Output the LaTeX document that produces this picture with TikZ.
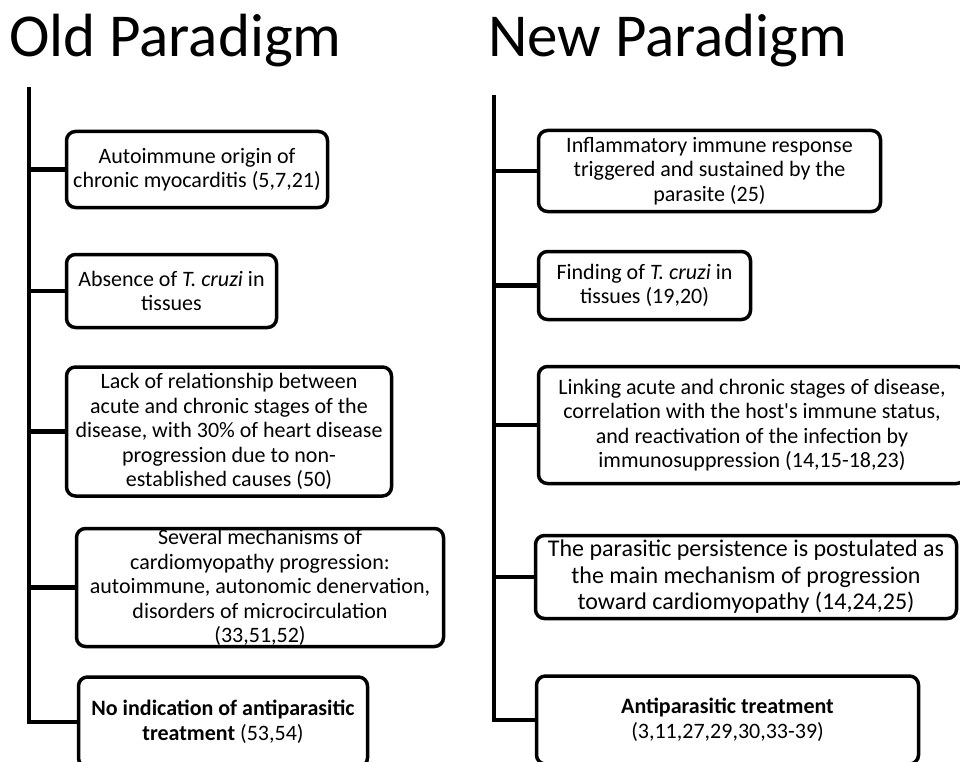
\documentclass[tikz,border=0pt]{standalone}
\usepackage{fontspec}
\setmainfont{Carlito}[Ligatures=TeXOff]

\newcommand{\boxline}{3.5pt}
\newcommand{\trunkline}{4.5pt}
\tikzset{
  parabox/.style={draw, line width=\boxline, rounded corners=9pt, align=center,
    inner sep=0pt, font=\fontsize{22}{24.5}\selectfont},
  bigbox/.style={parabox, font=\fontsize{24}{26.5}\selectfont},
  paratitle/.style={inner sep=0pt, anchor=base west, font=\fontsize{61}{72}\selectfont},
  branch/.style={line width=\trunkline}
}

\begin{document}
\begin{tikzpicture}[x=1pt,y=-1pt]
\useasboundingbox (0,0) rectangle (960,762);
\clip (0,0) rectangle (960,762);

%titles
\node[paratitle] (oldtitle) at (9,57) {Old Paradigm};
\node[paratitle] (newtitle) at (488,57) {New Paradigm};

%old paradigm
\coordinate (oldtop) at (29,87);
\node[parabox, minimum width=261pt, minimum height=76pt] (old1) at (197,169.5)
  {Autoimmune origin of\\chronic myocarditis (5,7,21)};
\node[parabox, minimum width=210pt, minimum height=73pt] (old2) at (171.5,291)
  {Absence of \textit{T. cruzi} in\\tissues};
\node[parabox, minimum width=325pt, minimum height=129pt] (old3) at (229,431.5)
  {Lack of relationship between\\acute and chronic stages of the\\disease, with 30\% of heart disease\\progression due to non-\\established causes (50)};
\node[parabox, minimum width=367pt, minimum height=118pt] (old4) at (260,587.5)
  {Several mechanisms of\\cardiomyopathy progression:\\autoimmune, autonomic denervation,\\disorders of microcirculation\\(33,51,52)};
\node[parabox, minimum width=289pt, minimum height=90pt] (old5) at (223,722)
  {\textbf{No indication of antiparasitic}\\\textbf{treatment} (53,54)};
\draw[branch] (oldtop) |- (old5.west);
\draw[branch] (old1.west) -- (old1.west -| oldtop);
\draw[branch] (old2.west) -- (old2.west -| oldtop);
\draw[branch] (old3.west) -- (old3.west -| oldtop);
\draw[branch] (old4.west) -- (old4.west -| oldtop);

%new paradigm
\coordinate (newtop) at (494,95);
\node[parabox, minimum width=342pt, minimum height=81pt] (new1) at (709.5,171)
  {Inflammatory immune response\\triggered and sustained by the\\parasite (25)};
\node[parabox, minimum width=212pt, minimum height=68pt] (new2) at (644.5,285.5)
  {Finding of \textit{T. cruzi} in\\tissues (19,20)};
\node[parabox, minimum width=427pt, minimum height=117pt] (new3) at (752,425)
  {Linking acute and chronic stages of disease,\\correlation with the host's immune status,\\and reactivation of the infection by\\immunosuppression (14,15-18,23)};
\node[bigbox, minimum width=421pt, minimum height=83pt] (new4) at (746,577)
  {The parasitic persistence is postulated as\\the main mechanism of progression\\toward cardiomyopathy (14,24,25)};
\node[parabox, minimum width=382pt, minimum height=88pt] (new5) at (727.5,720)
  {\textbf{Antiparasitic treatment}\\(3,11,27,29,30,33-39)};
\draw[branch] (newtop) |- (new5.west);
\draw[branch] (new1.west) -- (new1.west -| newtop);
\draw[branch] (new2.west) -- (new2.west -| newtop);
\draw[branch] (new3.west) -- (new3.west -| newtop);
\draw[branch] (new4.west) -- (new4.west -| newtop);
\end{tikzpicture}
\end{document}
